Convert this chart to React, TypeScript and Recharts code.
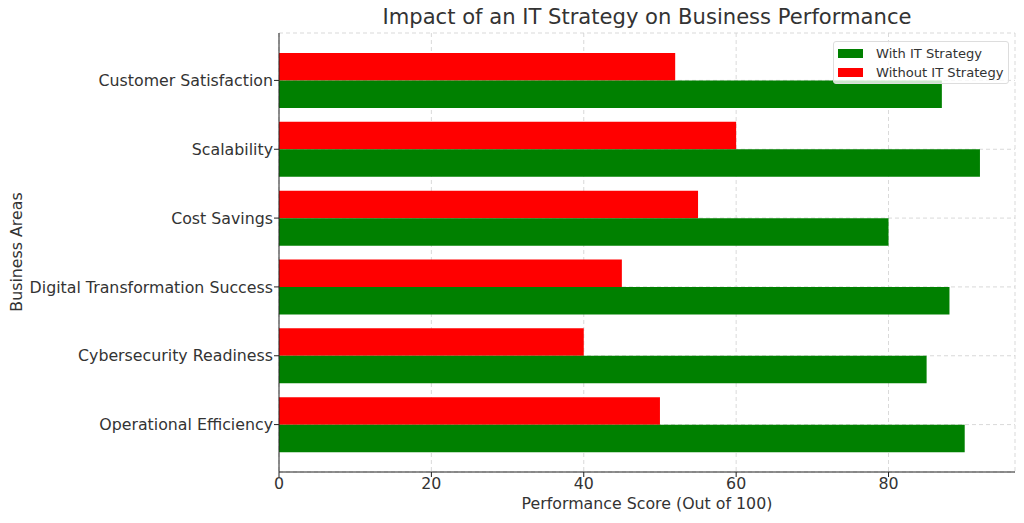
import { BarChart, Bar, XAxis, YAxis, CartesianGrid } from "recharts";

const areas = [
  "Customer Satisfaction",
  "Scalability",
  "Cost Savings",
  "Digital Transformation Success",
  "Cybersecurity Readiness",
  "Operational Efficiency",
];
const withIT = [87, 92, 80, 88, 85, 90];
const withoutIT = [52, 60, 55, 45, 40, 50];
const xTicks = [0, 20, 40, 60, 80];

const data = areas.map((area, i) => ({
  area,
  withIT: withIT[i],
  withoutIT: withoutIT[i],
}));

const font = "'DejaVu Sans', sans-serif";
const textColor = "#333";

export default function App() {
  return (
    <div style={{ position: "absolute", left: 0, top: 0, width: 1024, height: 523, fontFamily: font, background: "#fff" }}>
      <BarChart
        width={1024}
        height={523}
        data={data}
        layout="vertical"
        margin={{ top: 33, right: 9, bottom: 0, left: 0 }}
        barGap={0}
      >
        <XAxis
          type="number"
          domain={[0, 96.6]}
          ticks={xTicks}
          height={51}
          tickSize={5}
          tickMargin={1}
          stroke="#222"
          tick={{ fill: textColor, fontSize: 15.8, fontFamily: font }}
        />
        <YAxis
          type="category"
          dataKey="area"
          width={279}
          padding={{ top: 13, bottom: 13 }}
          tickSize={5}
          tickMargin={1}
          stroke="#222"
          tick={{ fill: textColor, fontSize: 15.8, fontFamily: font }}
        />
        <Bar dataKey="withoutIT" fill="#ff0000" barSize={27.5} isAnimationActive={false} />
        <Bar dataKey="withIT" fill="#008000" barSize={27.5} isAnimationActive={false} />
        <CartesianGrid stroke="#cfcfcf" strokeDasharray="4 3" strokeWidth={0.8} />
      </BarChart>

      <div style={{ position: "absolute", left: 279, width: 736, top: 4, textAlign: "center", fontSize: 21.1, color: textColor, whiteSpace: "nowrap" }}>
        Impact of an IT Strategy on Business Performance
      </div>
      <div style={{ position: "absolute", left: 279, width: 736, top: 494, textAlign: "center", fontSize: 15.8, color: textColor, whiteSpace: "nowrap" }}>
        Performance Score (Out of 100)
      </div>
      <div
        style={{
          position: "absolute",
          left: 16,
          top: 252,
          transform: "translate(-50%, -50%) rotate(-90deg)",
          fontSize: 15.8,
          color: textColor,
          whiteSpace: "nowrap",
        }}
      >
        Business Areas
      </div>

      <div
        style={{
          position: "absolute",
          left: 833,
          top: 41,
          width: 176,
          height: 43,
          boxSizing: "border-box",
          border: "1px solid #ddd",
          borderRadius: 3,
          background: "rgba(255,255,255,0.8)",
          fontSize: 13.1,
          color: textColor,
        }}
      >
        {[
          { label: "With IT Strategy", color: "#008000" },
          { label: "Without IT Strategy", color: "#ff0000" },
        ].map((item, i) => (
          <div key={item.label} style={{ position: "absolute", left: 4, top: 2 + i * 19, height: 18, display: "flex", alignItems: "center", whiteSpace: "nowrap" }}>
            <span style={{ display: "inline-block", width: 25, height: 9, background: item.color, marginRight: 13 }} />
            {item.label}
          </div>
        ))}
      </div>
    </div>
  );
}
